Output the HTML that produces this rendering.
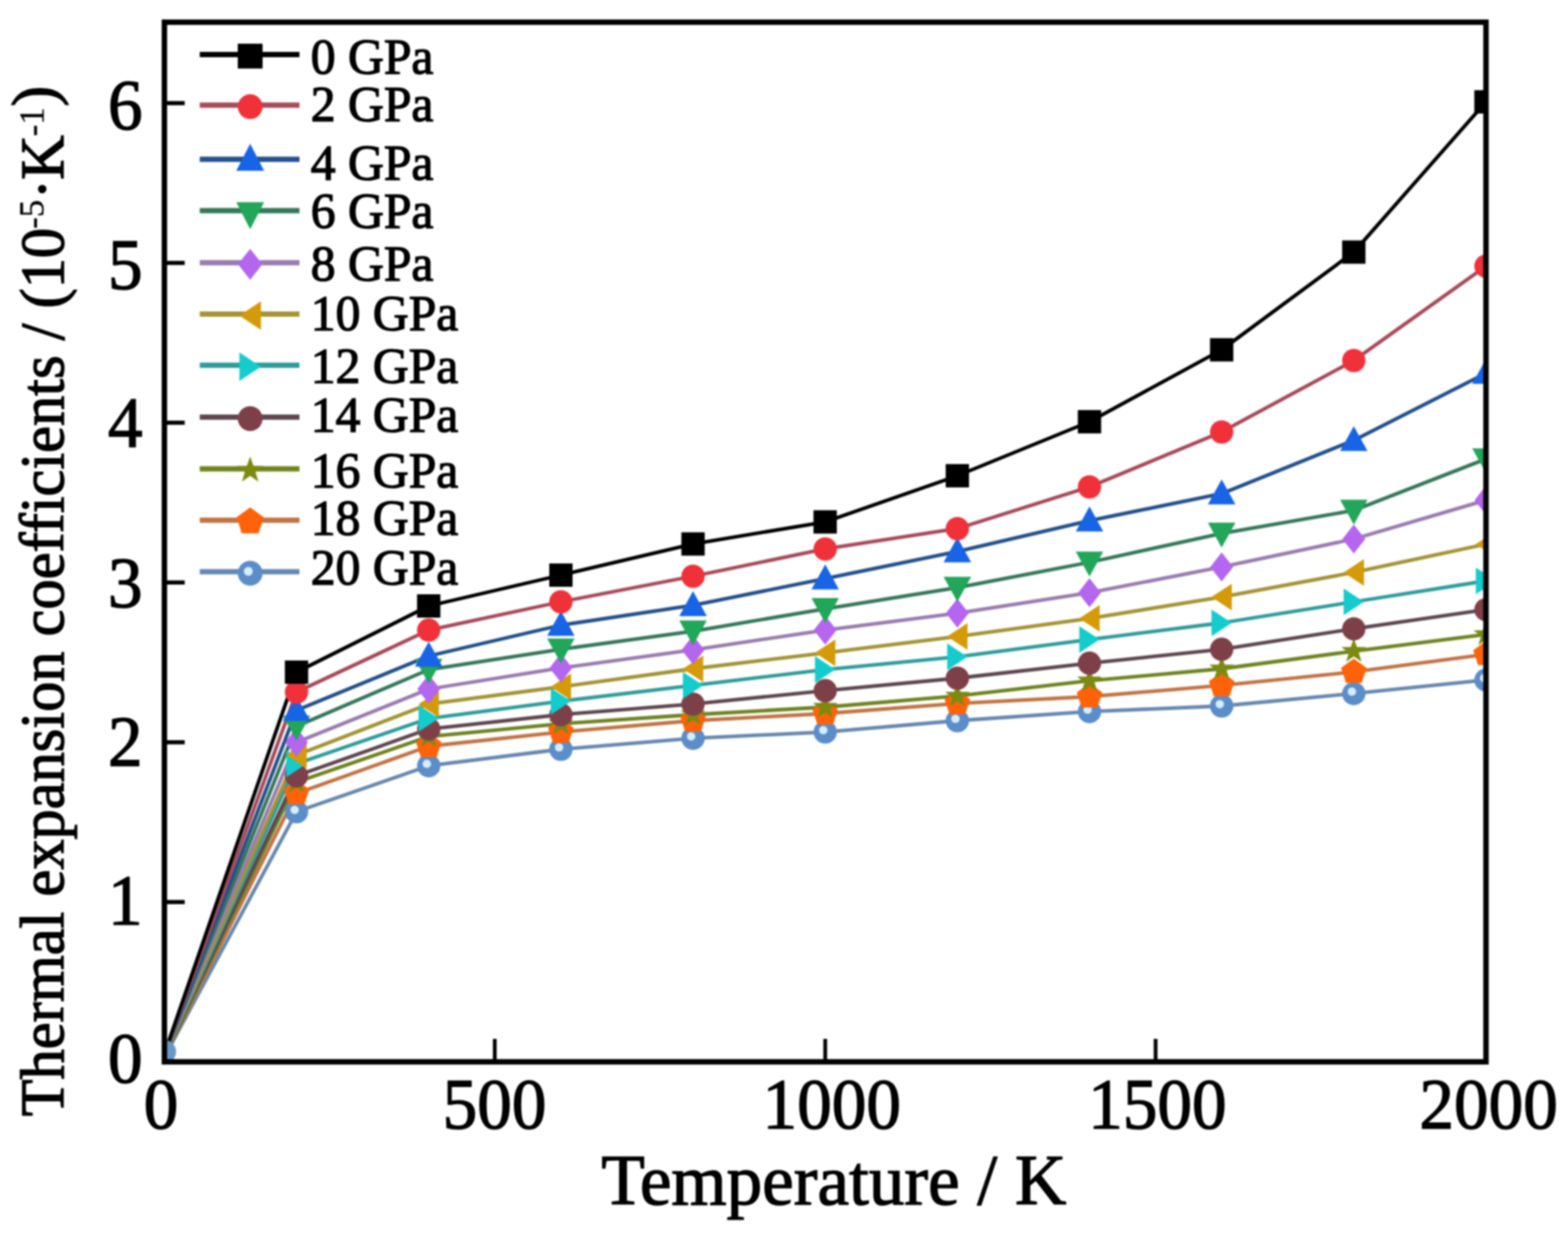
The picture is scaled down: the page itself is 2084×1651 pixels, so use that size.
<!DOCTYPE html>
<html><head><meta charset="utf-8"><title>Thermal expansion coefficients</title>
<style>html,body{margin:0;padding:0;background:#fff;}svg{display:block;filter:blur(1px);}text{font-family:"Liberation Serif","Times New Roman",serif;fill:#000;}.t{stroke:#000;stroke-width:1.6px;}.ts{stroke:#000;stroke-width:0.4px;}</style></head><body>
<svg width="2084" height="1651" viewBox="0 0 2084 1651">
<rect width="2084" height="1651" fill="#fff"/>
<defs><clipPath id="pa"><rect x="218.5" y="29.5" width="1756.5" height="1382.0"/></clipPath></defs>
<g clip-path="url(#pa)">
<polyline points="218.5,1405.1 394.1,1079.1 569.8,1017.9 745.5,996.0 921.1,981.4 1096.8,973.1 1272.4,958.0 1448.0,945.9 1623.7,938.5 1799.3,921.9 1975.0,903.9" fill="none" stroke="#6688b0" stroke-width="4.8" stroke-linejoin="round"/>
<polyline points="218.5,1404.7 394.1,1054.7 569.8,992.0 745.5,973.1 921.1,958.0 1096.8,948.5 1272.4,935.1 1448.0,926.0 1623.7,911.1 1799.3,893.2 1975.0,869.9" fill="none" stroke="#c27444" stroke-width="4.8" stroke-linejoin="round"/>
<polyline points="218.5,1404.3 394.1,1039.8 569.8,979.1 745.5,962.1 921.1,950.0 1096.8,940.0 1272.4,925.1 1448.0,904.9 1623.7,889.0 1799.3,865.6 1975.0,843.3" fill="none" stroke="#6e8420" stroke-width="4.8" stroke-linejoin="round"/>
<polyline points="218.5,1403.9 394.1,1031.3 569.8,969.1 745.5,950.0 921.1,935.9 1096.8,918.1 1272.4,901.5 1448.0,881.6 1623.7,863.1 1799.3,835.9 1975.0,810.4" fill="none" stroke="#5e4650" stroke-width="4.8" stroke-linejoin="round"/>
<polyline points="218.5,1403.4 394.1,1015.2 569.8,955.1 745.5,932.1 921.1,911.1 1096.8,890.1 1272.4,873.1 1448.0,850.1 1623.7,828.0 1799.3,800.0 1975.0,772.2" fill="none" stroke="#2f9c9c" stroke-width="4.8" stroke-linejoin="round"/>
<polyline points="218.5,1403.0 394.1,1003.7 569.8,935.9 745.5,913.0 921.1,889.0 1096.8,867.8 1272.4,846.1 1448.0,822.1 1623.7,793.6 1799.3,760.9 1975.0,723.3" fill="none" stroke="#a39434" stroke-width="4.8" stroke-linejoin="round"/>
<polyline points="218.5,1402.6 394.1,986.7 569.8,916.0 745.5,887.9 921.1,863.9 1096.8,837.6 1272.4,815.1 1448.0,787.9 1623.7,753.7 1799.3,716.5 1975.0,664.9" fill="none" stroke="#9a7cb0" stroke-width="4.8" stroke-linejoin="round"/>
<polyline points="218.5,1402.2 394.1,965.5 569.8,890.1 745.5,863.1 921.1,839.1 1096.8,809.3 1272.4,781.1 1448.0,747.5 1623.7,709.1 1799.3,678.5 1975.0,610.1" fill="none" stroke="#35785a" stroke-width="4.8" stroke-linejoin="round"/>
<polyline points="218.5,1401.7 394.1,944.2 569.8,872.0 745.5,831.0 921.1,804.7 1096.8,769.2 1272.4,733.1 1448.0,692.1 1623.7,656.2 1799.3,585.3 1975.0,496.1" fill="none" stroke="#24508c" stroke-width="4.8" stroke-linejoin="round"/>
<polyline points="218.5,1401.3 394.1,920.0 569.8,837.6 745.5,800.0 921.1,766.0 1096.8,729.7 1272.4,702.7 1448.0,647.3 1623.7,574.2 1799.3,479.3 1975.0,353.7" fill="none" stroke="#a84a5a" stroke-width="4.8" stroke-linejoin="round"/>
<polyline points="218.5,1400.9 394.1,893.5 569.8,805.5 745.5,764.5 921.1,723.1 1096.8,693.8 1272.4,632.4 1448.0,560.6 1623.7,465.0 1799.3,335.1 1975.0,135.4" fill="none" stroke="#000000" stroke-width="4.8" stroke-linejoin="round"/>
<g><circle cx="218.5" cy="1398" r="15.5" fill="#6a98c4"/><circle cx="394.1" cy="1079.1" r="15.5" fill="#5b8dc9"/><circle cx="391.6" cy="1076.6" r="5.6" fill="#d4eeff"/><circle cx="569.8" cy="1017.9" r="15.5" fill="#5b8dc9"/><circle cx="567.3" cy="1015.4" r="5.6" fill="#d4eeff"/><circle cx="745.5" cy="996.0" r="15.5" fill="#5b8dc9"/><circle cx="743.0" cy="993.5" r="5.6" fill="#d4eeff"/><circle cx="921.1" cy="981.4" r="15.5" fill="#5b8dc9"/><circle cx="918.6" cy="978.9" r="5.6" fill="#d4eeff"/><circle cx="1096.8" cy="973.1" r="15.5" fill="#5b8dc9"/><circle cx="1094.2" cy="970.6" r="5.6" fill="#d4eeff"/><circle cx="1272.4" cy="958.0" r="15.5" fill="#5b8dc9"/><circle cx="1269.9" cy="955.5" r="5.6" fill="#d4eeff"/><circle cx="1448.0" cy="945.9" r="15.5" fill="#5b8dc9"/><circle cx="1445.5" cy="943.4" r="5.6" fill="#d4eeff"/><circle cx="1623.7" cy="938.5" r="15.5" fill="#5b8dc9"/><circle cx="1621.2" cy="936.0" r="5.6" fill="#d4eeff"/><circle cx="1799.3" cy="921.9" r="15.5" fill="#5b8dc9"/><circle cx="1796.8" cy="919.4" r="5.6" fill="#d4eeff"/><circle cx="1975.0" cy="903.9" r="15.5" fill="#5b8dc9"/><circle cx="1972.5" cy="901.4" r="5.6" fill="#d4eeff"/></g>
<g><polygon points="394.1,1036.8 411.1,1049.2 404.6,1069.1 383.7,1069.1 377.2,1049.2" fill="#ff6208"/><polygon points="569.8,974.2 586.8,986.5 580.3,1006.4 559.3,1006.4 552.8,986.5" fill="#ff6208"/><polygon points="745.5,955.3 762.4,967.6 755.9,987.5 735.0,987.5 728.5,967.6" fill="#ff6208"/><polygon points="921.1,940.2 938.1,952.5 931.6,972.4 910.6,972.4 904.1,952.5" fill="#ff6208"/><polygon points="1096.8,930.6 1113.7,943.0 1107.2,962.9 1086.3,962.9 1079.8,943.0" fill="#ff6208"/><polygon points="1272.4,917.3 1289.4,929.6 1282.9,949.5 1261.9,949.5 1255.4,929.6" fill="#ff6208"/><polygon points="1448.0,908.1 1465.0,920.4 1458.5,940.4 1437.6,940.4 1431.1,920.4" fill="#ff6208"/><polygon points="1623.7,893.3 1640.7,905.6 1634.2,925.5 1613.2,925.5 1606.7,905.6" fill="#ff6208"/><polygon points="1799.3,875.4 1816.3,887.7 1809.8,907.7 1788.9,907.7 1782.4,887.7" fill="#ff6208"/><polygon points="1975.0,852.1 1992.0,864.4 1985.5,884.3 1964.5,884.3 1958.0,864.4" fill="#ff6208"/></g>
<g><polygon points="394.1,1022.4 398.2,1034.2 410.7,1034.4 400.8,1042.0 404.4,1053.8 394.1,1046.8 383.9,1053.8 387.5,1042.0 377.6,1034.4 390.1,1034.2" fill="#7c8a10"/><polygon points="569.8,961.7 573.9,973.4 586.3,973.7 576.4,981.2 580.0,993.1 569.8,986.0 559.6,993.1 563.2,981.2 553.3,973.7 565.7,973.4" fill="#7c8a10"/><polygon points="745.5,944.7 749.5,956.4 762.0,956.7 752.1,964.2 755.7,976.1 745.5,969.0 735.2,976.1 738.8,964.2 728.9,956.7 741.4,956.4" fill="#7c8a10"/><polygon points="921.1,932.6 925.2,944.3 937.6,944.6 927.7,952.1 931.3,964.0 921.1,956.9 910.9,964.0 914.5,952.1 904.6,944.6 917.0,944.3" fill="#7c8a10"/><polygon points="1096.8,922.6 1100.8,934.3 1113.3,934.6 1103.4,942.1 1107.0,954.0 1096.8,946.9 1086.5,954.0 1090.1,942.1 1080.2,934.6 1092.7,934.3" fill="#7c8a10"/><polygon points="1272.4,907.7 1276.5,919.5 1288.9,919.7 1279.0,927.3 1282.6,939.1 1272.4,932.1 1262.2,939.1 1265.8,927.3 1255.9,919.7 1268.3,919.5" fill="#7c8a10"/><polygon points="1448.0,887.6 1452.1,899.3 1464.6,899.6 1454.7,907.1 1458.3,919.0 1448.0,911.9 1437.8,919.0 1441.4,907.1 1431.5,899.6 1444.0,899.3" fill="#7c8a10"/><polygon points="1623.7,871.6 1627.8,883.4 1640.2,883.6 1630.3,891.2 1633.9,903.0 1623.7,896.0 1613.5,903.0 1617.1,891.2 1607.2,883.6 1619.6,883.4" fill="#7c8a10"/><polygon points="1799.3,848.3 1803.4,860.0 1815.9,860.3 1806.0,867.8 1809.6,879.7 1799.3,872.6 1789.1,879.7 1792.7,867.8 1782.8,860.3 1795.3,860.0" fill="#7c8a10"/><polygon points="1975.0,826.0 1979.1,837.7 1991.5,838.0 1981.6,845.5 1985.2,857.4 1975.0,850.3 1964.8,857.4 1968.4,845.5 1958.5,838.0 1970.9,837.7" fill="#7c8a10"/></g>
<g><circle cx="394.1" cy="1031.3" r="15.5" fill="#7e4048"/><circle cx="569.8" cy="969.1" r="15.5" fill="#7e4048"/><circle cx="745.5" cy="950.0" r="15.5" fill="#7e4048"/><circle cx="921.1" cy="935.9" r="15.5" fill="#7e4048"/><circle cx="1096.8" cy="918.1" r="15.5" fill="#7e4048"/><circle cx="1272.4" cy="901.5" r="15.5" fill="#7e4048"/><circle cx="1448.0" cy="881.6" r="15.5" fill="#7e4048"/><circle cx="1623.7" cy="863.1" r="15.5" fill="#7e4048"/><circle cx="1799.3" cy="835.9" r="15.5" fill="#7e4048"/><circle cx="1975.0" cy="810.4" r="15.5" fill="#7e4048"/></g>
<g><polygon points="407.6,1015.2 380.6,997.4 380.6,1032.9" fill="#14cccc"/><polygon points="583.3,955.1 556.3,937.3 556.3,972.8" fill="#14cccc"/><polygon points="759.0,932.1 732.0,914.4 732.0,949.9" fill="#14cccc"/><polygon points="934.6,911.1 907.6,893.3 907.6,928.8" fill="#14cccc"/><polygon points="1110.2,890.1 1083.2,872.3 1083.2,907.8" fill="#14cccc"/><polygon points="1285.9,873.1 1258.9,855.3 1258.9,890.8" fill="#14cccc"/><polygon points="1461.5,850.1 1434.5,832.4 1434.5,867.9" fill="#14cccc"/><polygon points="1637.2,828.0 1610.2,810.3 1610.2,845.8" fill="#14cccc"/><polygon points="1812.8,800.0 1785.8,782.3 1785.8,817.8" fill="#14cccc"/><polygon points="1988.5,772.2 1961.5,754.4 1961.5,789.9" fill="#14cccc"/></g>
<g><polygon points="380.6,1003.7 407.6,985.9 407.6,1021.4" fill="#d49a08"/><polygon points="556.3,935.9 583.3,918.2 583.3,953.7" fill="#d49a08"/><polygon points="732.0,913.0 759.0,895.2 759.0,930.7" fill="#d49a08"/><polygon points="907.6,889.0 934.6,871.2 934.6,906.7" fill="#d49a08"/><polygon points="1083.2,867.8 1110.2,850.0 1110.2,885.5" fill="#d49a08"/><polygon points="1258.9,846.1 1285.9,828.3 1285.9,863.8" fill="#d49a08"/><polygon points="1434.5,822.1 1461.5,804.3 1461.5,839.8" fill="#d49a08"/><polygon points="1610.2,793.6 1637.2,775.9 1637.2,811.4" fill="#d49a08"/><polygon points="1785.8,760.9 1812.8,743.2 1812.8,778.7" fill="#d49a08"/><polygon points="1961.5,723.3 1988.5,705.6 1988.5,741.1" fill="#d49a08"/></g>
<g><polygon points="394.1,967.3 409.3,986.7 394.1,1006.1 379.0,986.7" fill="#b466ee"/><polygon points="569.8,896.6 585.0,916.0 569.8,935.3 554.6,916.0" fill="#b466ee"/><polygon points="745.5,868.6 760.6,887.9 745.5,907.3 730.3,887.9" fill="#b466ee"/><polygon points="921.1,844.6 936.3,863.9 921.1,883.3 905.9,863.9" fill="#b466ee"/><polygon points="1096.8,818.2 1111.9,837.6 1096.8,857.0 1081.6,837.6" fill="#b466ee"/><polygon points="1272.4,795.7 1287.6,815.1 1272.4,834.5 1257.2,815.1" fill="#b466ee"/><polygon points="1448.0,768.5 1463.2,787.9 1448.0,807.3 1432.9,787.9" fill="#b466ee"/><polygon points="1623.7,734.3 1638.9,753.7 1623.7,773.1 1608.5,753.7" fill="#b466ee"/><polygon points="1799.3,697.2 1814.5,716.5 1799.3,735.9 1784.2,716.5" fill="#b466ee"/><polygon points="1975.0,645.5 1990.2,664.9 1975.0,684.3 1959.8,664.9" fill="#b466ee"/></g>
<g><polygon points="375.9,951.2 412.4,951.2 394.1,984.4" fill="#22a65a"/><polygon points="551.5,875.8 588.1,875.8 569.8,909.0" fill="#22a65a"/><polygon points="727.2,848.8 763.7,848.8 745.5,882.0" fill="#22a65a"/><polygon points="902.8,824.8 939.4,824.8 921.1,858.0" fill="#22a65a"/><polygon points="1078.5,795.1 1115.0,795.1 1096.8,828.3" fill="#22a65a"/><polygon points="1254.1,766.8 1290.7,766.8 1272.4,800.0" fill="#22a65a"/><polygon points="1429.8,733.3 1466.3,733.3 1448.0,766.4" fill="#22a65a"/><polygon points="1605.4,694.8 1642.0,694.8 1623.7,728.0" fill="#22a65a"/><polygon points="1781.1,664.2 1817.6,664.2 1799.3,697.4" fill="#22a65a"/><polygon points="1956.7,595.9 1993.3,595.9 1975.0,629.0" fill="#22a65a"/></g>
<g><polygon points="394.1,925.3 412.4,958.5 375.9,958.5" fill="#1864e6"/><polygon points="569.8,853.1 588.1,886.3 551.5,886.3" fill="#1864e6"/><polygon points="745.5,812.1 763.7,845.3 727.2,845.3" fill="#1864e6"/><polygon points="921.1,785.8 939.4,818.9 902.8,818.9" fill="#1864e6"/><polygon points="1096.8,750.3 1115.0,783.5 1078.5,783.5" fill="#1864e6"/><polygon points="1272.4,714.2 1290.7,747.4 1254.1,747.4" fill="#1864e6"/><polygon points="1448.0,673.2 1466.3,706.4 1429.8,706.4" fill="#1864e6"/><polygon points="1623.7,637.3 1642.0,670.5 1605.4,670.5" fill="#1864e6"/><polygon points="1799.3,566.4 1817.6,599.5 1781.1,599.5" fill="#1864e6"/><polygon points="1975.0,477.1 1993.3,510.3 1956.7,510.3" fill="#1864e6"/></g>
<g><circle cx="394.1" cy="920.0" r="15.5" fill="#f0313a"/><circle cx="569.8" cy="837.6" r="15.5" fill="#f0313a"/><circle cx="745.5" cy="800.0" r="15.5" fill="#f0313a"/><circle cx="921.1" cy="766.0" r="15.5" fill="#f0313a"/><circle cx="1096.8" cy="729.7" r="15.5" fill="#f0313a"/><circle cx="1272.4" cy="702.7" r="15.5" fill="#f0313a"/><circle cx="1448.0" cy="647.3" r="15.5" fill="#f0313a"/><circle cx="1623.7" cy="574.2" r="15.5" fill="#f0313a"/><circle cx="1799.3" cy="479.3" r="15.5" fill="#f0313a"/><circle cx="1975.0" cy="353.7" r="15.5" fill="#f0313a"/></g>
<g><rect x="378.6" y="878.0" width="31.0" height="31.0" fill="#000000"/><rect x="554.3" y="790.0" width="31.0" height="31.0" fill="#000000"/><rect x="730.0" y="749.0" width="31.0" height="31.0" fill="#000000"/><rect x="905.6" y="707.6" width="31.0" height="31.0" fill="#000000"/><rect x="1081.2" y="678.3" width="31.0" height="31.0" fill="#000000"/><rect x="1256.9" y="616.9" width="31.0" height="31.0" fill="#000000"/><rect x="1432.5" y="545.1" width="31.0" height="31.0" fill="#000000"/><rect x="1608.2" y="449.5" width="31.0" height="31.0" fill="#000000"/><rect x="1783.8" y="319.6" width="31.0" height="31.0" fill="#000000"/><rect x="1959.5" y="119.9" width="31.0" height="31.0" fill="#000000"/></g>
</g>
<rect x="218.5" y="29.5" width="1756.5" height="1382.0" fill="none" stroke="#000" stroke-width="7.2"/>
<line x1="657.6" y1="1411.5" x2="657.6" y2="1381.0" stroke="#000" stroke-width="5"/>
<line x1="1096.8" y1="1411.5" x2="1096.8" y2="1381.0" stroke="#000" stroke-width="5"/>
<line x1="1535.9" y1="1411.5" x2="1535.9" y2="1381.0" stroke="#000" stroke-width="5"/>
<line x1="218.5" y1="1199.1" x2="245.5" y2="1199.1" stroke="#000" stroke-width="5.5"/>
<line x1="218.5" y1="986.7" x2="245.5" y2="986.7" stroke="#000" stroke-width="5.5"/>
<line x1="218.5" y1="774.3" x2="245.5" y2="774.3" stroke="#000" stroke-width="5.5"/>
<line x1="218.5" y1="561.9" x2="245.5" y2="561.9" stroke="#000" stroke-width="5.5"/>
<line x1="218.5" y1="349.5" x2="245.5" y2="349.5" stroke="#000" stroke-width="5.5"/>
<line x1="218.5" y1="137.1" x2="245.5" y2="137.1" stroke="#000" stroke-width="5.5"/>
<text transform="translate(214.00,1499.50) scale(1,1.035)" font-size="92" text-anchor="middle" class="t">0</text>
<text transform="translate(657.25,1499.50) scale(1,1.035)" font-size="92" text-anchor="middle" class="t">500</text>
<text transform="translate(1105.40,1499.50) scale(1,1.035)" font-size="92" text-anchor="middle" class="t">1000</text>
<text transform="translate(1538.30,1499.50) scale(1,1.035)" font-size="92" text-anchor="middle" class="t">1500</text>
<text transform="translate(1978.50,1499.50) scale(1,1.035)" font-size="92" text-anchor="middle" class="t">2000</text>
<text transform="translate(189.50,1439.20) scale(1,1.035)" font-size="92" text-anchor="end" class="t">0</text>
<text transform="translate(189.50,1228.50) scale(1,1.035)" font-size="92" text-anchor="end" class="t">1</text>
<text transform="translate(189.50,1018.10) scale(1,1.035)" font-size="92" text-anchor="end" class="t">2</text>
<text transform="translate(189.50,806.50) scale(1,1.035)" font-size="92" text-anchor="end" class="t">3</text>
<text transform="translate(189.50,594.00) scale(1,1.035)" font-size="92" text-anchor="end" class="t">4</text>
<text transform="translate(189.50,384.20) scale(1,1.035)" font-size="92" text-anchor="end" class="t">5</text>
<text transform="translate(189.50,172.05) scale(1,1.035)" font-size="92" text-anchor="end" class="t">6</text>
<text transform="translate(799.30,1600.50) scale(1,1.0)" font-size="94.5" text-anchor="start" class="t">Temperature / K</text>
<text transform="translate(83.5,1484) rotate(-90) scale(0.98,1)" font-size="82" class="t">Thermal expansion coefficients / (10</text>
<text transform="translate(57.50,304.00) rotate(-90)" font-size="46" class="ts">-5</text>
<text transform="translate(83.50,265.00) rotate(-90)" font-size="82" class="t">·</text>
<text transform="translate(83.50,239.00) rotate(-90)" font-size="82" class="t">K</text>
<text transform="translate(57.50,181.00) rotate(-90)" font-size="46" class="ts">-1</text>
<text transform="translate(72.50,141.40) rotate(-90)" font-size="82" class="t">)</text>
<line x1="265.5" y1="72.6" x2="398.0" y2="72.6" stroke="#000000" stroke-width="7"/>
<rect x="316.0" y="58.1" width="33.0" height="33.0" fill="#000000"/>
<text transform="translate(413.00,98.00) scale(1,1.035)" font-size="66" text-anchor="start" class="t">0 GPa</text>
<line x1="265.5" y1="139.8" x2="398.0" y2="139.8" stroke="#a84a5a" stroke-width="7"/>
<circle cx="332.5" cy="141.8" r="16.5" fill="#f0313a"/>
<text transform="translate(413.00,161.00) scale(1,1.035)" font-size="66" text-anchor="start" class="t">2 GPa</text>
<line x1="265.5" y1="211.8" x2="398.0" y2="211.8" stroke="#24508c" stroke-width="7"/>
<polygon points="332.5,191.1 351.0,227.1 314.0,227.1" fill="#1864e6"/>
<text transform="translate(413.00,238.70) scale(1,1.035)" font-size="66" text-anchor="start" class="t">4 GPa</text>
<line x1="265.5" y1="280.0" x2="398.0" y2="280.0" stroke="#35785a" stroke-width="7"/>
<polygon points="314.0,268.7 351.0,268.7 332.5,304.7" fill="#22a65a"/>
<text transform="translate(413.00,303.00) scale(1,1.035)" font-size="66" text-anchor="start" class="t">6 GPa</text>
<line x1="265.5" y1="349.3" x2="398.0" y2="349.3" stroke="#9a7cb0" stroke-width="7"/>
<polygon points="332.5,330.7 348.7,351.3 332.5,371.9 316.3,351.3" fill="#b466ee"/>
<text transform="translate(413.00,373.00) scale(1,1.035)" font-size="66" text-anchor="start" class="t">8 GPa</text>
<line x1="265.5" y1="417.5" x2="398.0" y2="417.5" stroke="#a39434" stroke-width="7"/>
<polygon points="318.2,419.5 346.8,400.5 346.8,438.5" fill="#d49a08"/>
<text transform="translate(413.00,438.60) scale(1,1.035)" font-size="66" text-anchor="start" class="t">10 GPa</text>
<line x1="265.5" y1="485.6" x2="398.0" y2="485.6" stroke="#2f9c9c" stroke-width="7"/>
<polygon points="346.8,487.6 318.2,468.6 318.2,506.6" fill="#14cccc"/>
<text transform="translate(413.00,509.00) scale(1,1.035)" font-size="66" text-anchor="start" class="t">12 GPa</text>
<line x1="265.5" y1="554.5" x2="398.0" y2="554.5" stroke="#5e4650" stroke-width="7"/>
<circle cx="332.5" cy="556.5" r="16.5" fill="#7e4048"/>
<text transform="translate(413.00,574.00) scale(1,1.035)" font-size="66" text-anchor="start" class="t">14 GPa</text>
<line x1="265.5" y1="623.2" x2="398.0" y2="623.2" stroke="#6e8420" stroke-width="7"/>
<polygon points="332.5,606.7 336.9,619.2 350.1,619.5 339.6,627.5 343.4,640.2 332.5,632.6 321.6,640.2 325.4,627.5 314.9,619.5 328.1,619.2" fill="#7c8a10"/>
<text transform="translate(413.00,648.00) scale(1,1.035)" font-size="66" text-anchor="start" class="t">16 GPa</text>
<line x1="265.5" y1="691.5" x2="398.0" y2="691.5" stroke="#c27444" stroke-width="7"/>
<polygon points="332.5,674.5 350.5,687.6 343.7,708.9 321.3,708.9 314.5,687.6" fill="#ff6208"/>
<text transform="translate(413.00,711.00) scale(1,1.035)" font-size="66" text-anchor="start" class="t">18 GPa</text>
<line x1="265.5" y1="760.0" x2="398.0" y2="760.0" stroke="#6688b0" stroke-width="7"/>
<circle cx="332.5" cy="762.0" r="16.5" fill="#5b8dc9"/><circle cx="330.0" cy="759.5" r="5.9" fill="#d4eeff"/>
<text transform="translate(413.00,777.30) scale(1,1.035)" font-size="66" text-anchor="start" class="t">20 GPa</text>
</svg></body></html>
